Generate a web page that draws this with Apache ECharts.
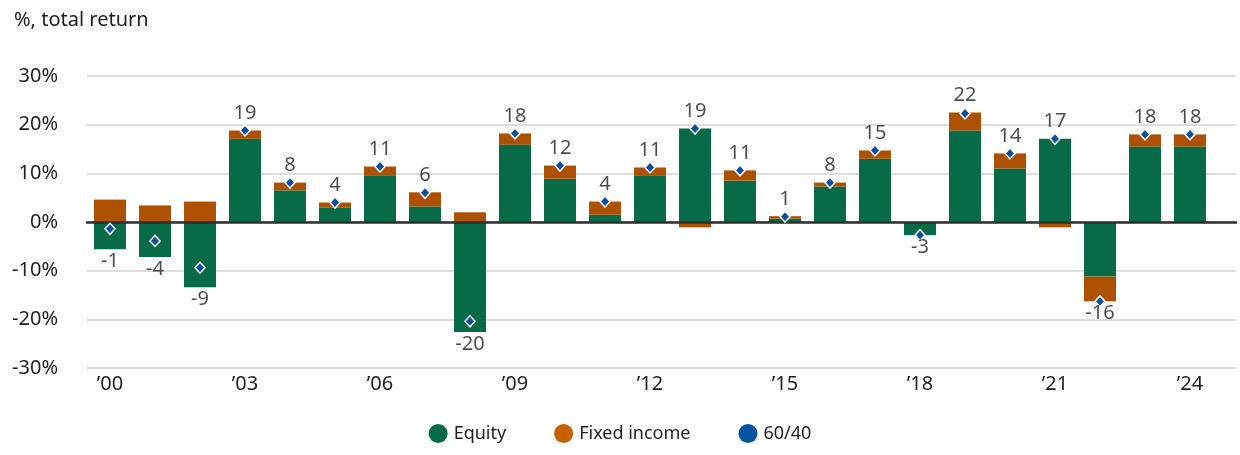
<!DOCTYPE html>
<html>
<head>
<meta charset="utf-8">
<title>Equity and fixed income contributions to 60/40 returns</title>
<script src="https://cdn.jsdelivr.net/npm/echarts@6/dist/echarts.min.js"></script>
<style>
  html, body { margin: 0; padding: 0; background: #fff; }
  #main { width: 1240px; height: 455px; }
</style>
</head>
<body>
<div id="main"></div>
<script>
// values, % total return
const years = ['2000', '2001', '2002', '2003', '2004', '2005', '2006', '2007', '2008', '2009',
  '2010', '2011', '2012', '2013', '2014', '2015', '2016', '2017', '2018', '2019',
  '2020', '2021', '2022', '2023', '2024']
const equity = [-5.6, -7.2, -13.4, 17.1, 6.5, 3.0, 9.6, 3.2, -22.6, 15.9,
  8.9, 1.5, 9.6, 19.2, 8.5, 0.7, 7.3, 13.0, -2.7, 18.8,
  11.0, 17.1, -11.2, 15.5, 15.5]
const fixedIncome = [4.6, 3.4, 4.2, 1.7, 1.6, 1.0, 1.8, 2.9, 2.0, 2.3,
  2.7, 2.7, 1.6, -1.1, 2.1, 0.5, 0.8, 1.7, 0, 3.7,
  3.1, -1.1, -5.1, 2.5, 2.5]
const sixtyForty = [-1.4, -3.9, -9.4, 18.8, 8.1, 4.0, 11.4, 6.0, -20.4, 18.2,
  11.6, 4.2, 11.2, 19.2, 10.6, 1.1, 8.1, 14.7, -2.7, 22.3,
  14.1, 17.1, -16.3, 18.0, 18.0]
const yTicks = { min: -30, max: 30, step: 10 }

const GREEN = '#086b48'
const ORANGE = '#ad5000'
const BLUE = '#0b4f9e'
const TEXT = '#1e1e1e'
const FONT = 'Noto Sans'

// labels sit at the outer end of each stacked bar
const labelAnchors = years.map((y, i) => {
  const pos = Math.max(0, equity[i]) + Math.max(0, fixedIncome[i])
  const neg = Math.min(0, equity[i]) + Math.min(0, fixedIncome[i])
  const up = sixtyForty[i] >= 0
  return {
    value: up ? pos : neg,
    label: {
      position: up ? 'top' : 'bottom',
      distance: up ? 7 : 2,
      formatter: String(Math.round(sixtyForty[i]))
    }
  }
})

const chart = echarts.init(document.getElementById('main'))
chart.setOption({
  animation: false,
  textStyle: { fontFamily: FONT },
  title: {
    text: '%, total return',
    left: 9,
    top: 5,
    textStyle: { fontFamily: FONT, fontSize: 20, fontWeight: 'normal', color: TEXT }
  },
  legend: {
    left: 'center',
    top: 419,
    icon: 'circle',
    itemWidth: 19,
    itemHeight: 19,
    itemGap: 48,
    textStyle: { fontFamily: FONT, fontSize: 18, color: TEXT, padding: [0, 0, 0, 1] },
    data: [
      { name: 'Equity', itemStyle: { color: GREEN, opacity: 1 } },
      { name: 'Fixed income', itemStyle: { color: '#c96000', opacity: 1 } },
      { name: '60/40', itemStyle: { color: '#0553a3', borderWidth: 0, opacity: 1 } }
    ]
  },
  grid: [
    { left: 87, right: 4, top: 76, bottom: 87 },
    { left: 87.5, width: 1125, top: 76, bottom: 87 }
  ],
  xAxis: [
    {
      type: 'value', gridIndex: 0, min: 0, max: 1, z: 10,
      axisLine: { show: true, onZero: true, lineStyle: { color: '#2e2e2e', width: 2.5 } },
      axisTick: { show: false }, axisLabel: { show: false }, splitLine: { show: false }
    },
    {
      type: 'category', gridIndex: 1, data: years,
      axisLine: { show: false }, axisTick: { show: false },
      axisLabel: {
        interval: 2, margin: 6, fontFamily: FONT, fontSize: 20, color: TEXT,
        formatter: (v) => '\u2019' + v.slice(2)
      }
    }
  ],
  yAxis: [
    {
      type: 'value', gridIndex: 0, min: yTicks.min, max: yTicks.max, interval: yTicks.step,
      axisLine: { show: false }, axisTick: { show: false },
      axisLabel: { margin: 29, fontFamily: FONT, fontSize: 20, color: TEXT, formatter: '{value}%' },
      splitLine: { lineStyle: { color: '#d2d2d2', width: 1.5 } }
    },
    {
      type: 'value', gridIndex: 1, min: yTicks.min, max: yTicks.max, interval: yTicks.step,
      show: false, splitLine: { show: false }
    }
  ],
  series: [
    {
      name: 'Equity', type: 'bar', stack: 'total', xAxisIndex: 1, yAxisIndex: 1,
      barWidth: 32, itemStyle: { color: GREEN }, data: equity
    },
    {
      name: 'Fixed income', type: 'bar', stack: 'total', xAxisIndex: 1, yAxisIndex: 1,
      barWidth: 32, itemStyle: { color: ORANGE }, data: fixedIncome
    },
    {
      name: '60/40', type: 'scatter', xAxisIndex: 1, yAxisIndex: 1, z: 12,
      symbol: 'diamond', symbolSize: [10, 11],
      itemStyle: { color: BLUE, borderColor: '#fff', borderWidth: 1.5, opacity: 1 },
      data: sixtyForty
    },
    {
      name: 'labels', type: 'scatter', xAxisIndex: 1, yAxisIndex: 1, z: 13,
      symbolSize: 0, silent: true,
      label: { show: true, fontFamily: FONT, fontSize: 20, color: TEXT },
      data: labelAnchors
    }
  ]
})
</script>
</body>
</html>
